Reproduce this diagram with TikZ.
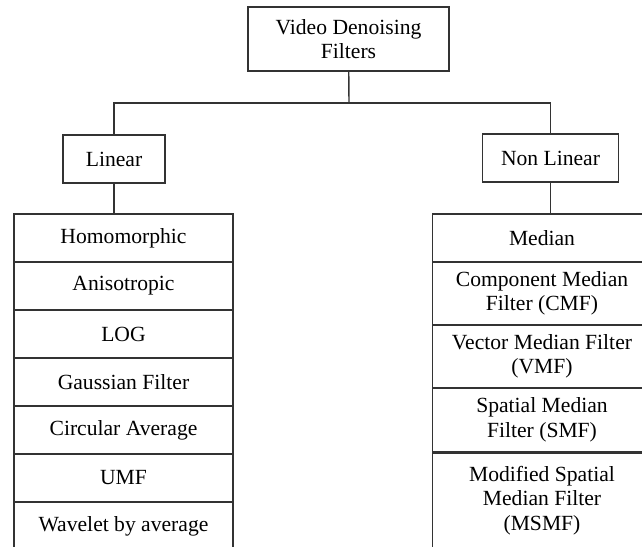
\documentclass[tikz,border=0pt]{standalone}
\usepackage{fontspec}
\setmainfont{Liberation Serif}
\usepackage{tikz}
\usetikzlibrary{positioning,calc}

\newcommand{\pxu}{0.02cm}

\begin{document}
\begin{tikzpicture}[
  x=\pxu, y=-\pxu,
  font=\fontsize{12.3}{13.9}\selectfont,
  box/.style={draw=black!80, line width=0.8pt, align=center, inner sep=0pt},
  head/.style={box, minimum width=201*\pxu, minimum height=64*\pxu},
  kind/.style={box, minimum height=48*\pxu},
  cell/.style={box, minimum width=219*\pxu},
  link/.style={draw=black!80, line width=0.8pt},
]
\clip (0,0) rectangle (642,547);

% ================= root and the two families =================
\node[head] (vdf) at (348.5,39) {Video Denoising\\Filters};
\node[kind, minimum width=102*\pxu] (lin)  at (114,159)   {Linear};
\node[kind, minimum width=136*\pxu] (nlin) at (550.5,158) {Non Linear};

\coordinate (fork) at (349,103);
\draw[link] (vdf) -- (fork);
\draw[link] (fork) -| (lin);
\draw[link] (fork) -| (nlin);

% ================= linear filters =================
\foreach \t [count=\i] in {Homomorphic, Anisotropic, LOG, Gaussian Filter,
                           Circular Average, UMF, Wavelet by average}
  \node[cell, minimum height=48*\pxu] (l\i) at (123.5,190+48*\i) {\t};

\draw[link] (lin) -- (lin |- l1.north);

% ================= non linear filters =================
\foreach \t/\y/\h [count=\i] in {Median/238/48,
    {Component Median\\Filter (CMF)}/293.5/63,
    {Vector Median Filter\\(VMF)}/356.5/63,
    {Spatial Median\\Filter (SMF)}/420/64}
  \node[cell, minimum height=\h*\pxu] (r\i) at (542,\y) {\t};

% last row runs off the page, so its text hangs from the top
\node[cell, minimum height=100*\pxu, anchor=north] (r5) at (r4.south) {};
\node[align=center, anchor=north, inner sep=0pt] (r5t)
  at ($(r5.north)+(0,13)$) {Modified Spatial\\Median Filter\\(MSMF)};

\draw[link] (nlin) -- (nlin |- r1.north);

\end{tikzpicture}
\end{document}
